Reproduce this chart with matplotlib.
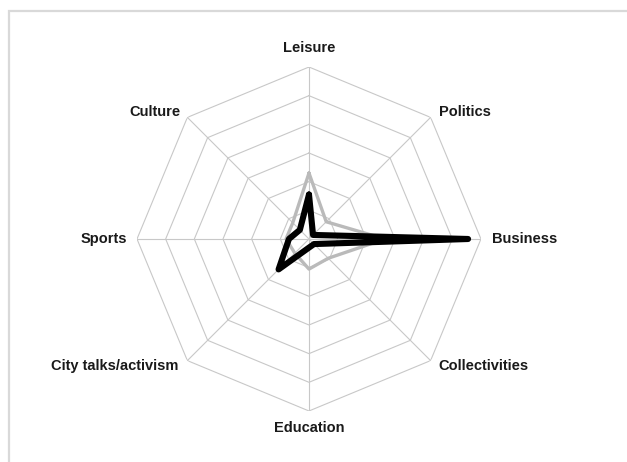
import numpy as np
import matplotlib
matplotlib.use("Agg")
import matplotlib.pyplot as plt
from matplotlib.patches import Rectangle

# Categories clockwise from the top
categories = ["Leisure", "Politics", "Business", "Collectivities",
              "Education", "City talks/activism", "Sports", "Culture"]

# Values (scale 0-60)
black_values = [15.5, 2, 55.5, 2.5, 3, 15, 7, 4.5]
gray_values = [23, 8.5, 26.5, 9.5, 10.5, 7, 8, 8]

rings = [10, 20, 30, 40, 50, 60]

plt.rcParams['font.family'] = ['Liberation Sans Narrow', 'Liberation Sans', 'DejaVu Sans']

fig = plt.figure(figsize=(6.27, 4.62), dpi=100)

# outer frame of the original chart area
fig.patches.append(Rectangle((9 / 627, -0.1), 1.2, 1.1 - 11 / 462,
                             transform=fig.transFigure, fill=False,
                             edgecolor="#d9d9d9", lw=1.6))

ax = fig.add_axes([0.4928 - 0.2743, 0.4827 - 0.3723, 0.5486, 0.7446], polar=True)
ax.set_theta_zero_location("N")
ax.set_theta_direction(-1)
ax.set_ylim(0, 60)
ax.grid(False)
ax.spines["polar"].set_visible(False)
ax.set_xticks([])
ax.set_yticks([])
ax.patch.set_alpha(0)

n = len(categories)
theta = np.arange(n) * 2 * np.pi / n
theta_closed = np.append(theta, theta[0])

# octagonal grid
for r in rings:
    ax.plot(theta_closed, [r] * (n + 1), color="#c8c8c8", lw=0.8, zorder=1)
for t in theta:
    ax.plot([t, t], [0, rings[-1]], color="#c8c8c8", lw=0.8, zorder=1)

# series
ax.plot(theta_closed, gray_values + gray_values[:1], color="#bababa", lw=2.4,
        solid_joinstyle="round", solid_capstyle="round", zorder=3)
ax.plot(theta_closed, black_values + black_values[:1], color="black", lw=4.4,
        solid_joinstyle="round", solid_capstyle="round", zorder=4)

# category labels
offsets = [(0, 19, "center"), (8, 5, "left"), (11, 0, "left"), (8, -5, "left"),
           (0, -17, "center"), (-9, -5, "right"), (-10, 0, "right"), (-7, 5, "right")]
for t, label, (dx, dy, ha) in zip(theta, categories, offsets):
    ax.annotate(label, xy=(t, rings[-1]), xytext=(dx, dy), textcoords="offset pixels",
                ha=ha, va="center", fontsize=10.5, fontweight="bold", color="#1a1a1a",
                annotation_clip=False)

fig.savefig("out.png", dpi=100)
